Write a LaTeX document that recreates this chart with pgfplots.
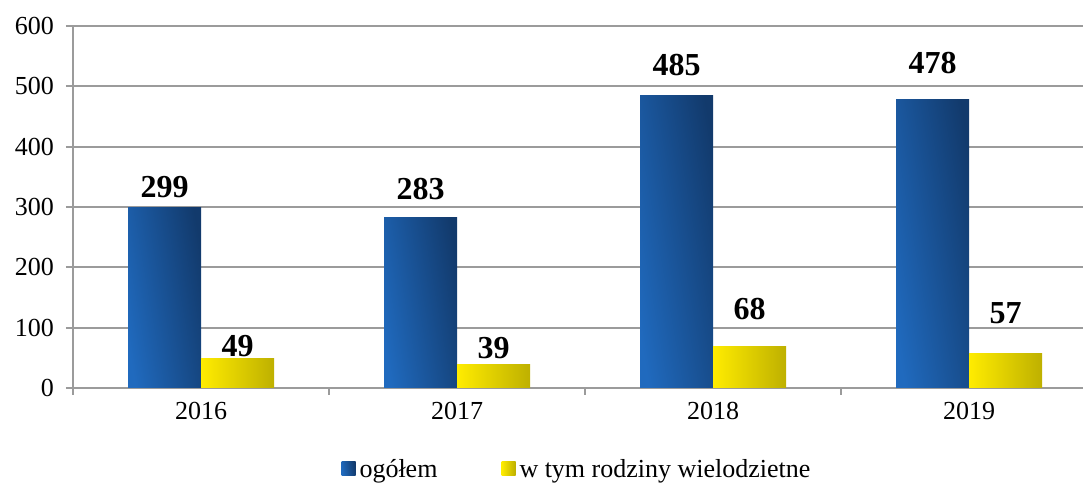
\documentclass[border=0pt]{standalone}
\usepackage{fontspec}
\setmainfont{Liberation Serif}
\usepackage{pgfplots}
\pgfplotsset{compat=1.18}
\definecolor{gridgray}{RGB}{155,155,155}
\definecolor{blueA}{RGB}{32,106,190}
\definecolor{blueB}{RGB}{18,58,108}
\definecolor{yelA}{RGB}{255,236,0}
\definecolor{yelB}{RGB}{190,176,0}
\pgfplotsset{
  bluebar/.style={draw=none, left color=blueA, right color=blueB, shading angle=100, bar shift=-18.25pt},
  yelbar/.style={draw=none, left color=yelA, right color=yelB, bar shift=18.25pt},
}
\begin{document}
\begin{tikzpicture}
\begin{axis}[
  at={(0,0)}, anchor=south west,
  scale only axis, width=505pt, height=181pt,
  xmin=-0.5, xmax=3.445, ymin=0, ymax=600,
  enlargelimits=false,
  ybar=0pt, bar width=36.5pt,
  axis lines*=left,
  axis line style={draw=gridgray, line width=0.9pt, -},
  ymajorgrids, grid style={gridgray, line width=0.9pt},
  tick align=outside, major tick length=3.5pt,
  tick style={gridgray, line width=0.9pt},
  xtick={-0.5,0.5,1.5,2.5}, xticklabels={},
  extra x ticks={0,1,2,3},
  extra x tick labels={2016,2017,2018,2019},
  extra x tick style={major tick length=0pt, grid=none, xticklabel style={yshift=-3.5pt}},
  ytick={0,100,...,600},
  yticklabel style={xshift=-2.5pt},
  tick label style={font=\fontsize{13}{15}\selectfont, text=black},
  /pgf/number format/assume math mode=true,
  nodes near coords,
  visualization depends on={\thisrow{s} \as \myshift},
  every node near coord/.append style={font=\bfseries\fontsize{16}{18}\selectfont, text=black, yshift=\myshift pt},
  legend columns=2,
  legend style={at={(0.5,0)}, anchor=center, yshift=-41pt, xshift=0pt, draw=none,
    font=\fontsize{13}{15}\selectfont,
    /tikz/every even column/.append style={column sep=30pt}},
  legend image code/.code={\path[#1, draw=none] (-3pt,-3pt) rectangle (4pt,4pt);},
]
% ogółem
\addplot[bluebar] table[x=x, y=y] {
x y s
0 299 1.5
};
\addlegendentry{ogółem}
\addplot[yelbar] table[x=x, y=y] {
x y s
0 49 -2.75
};
\addlegendentry{w tym rodziny wielodzietne}
\addplot[bluebar, forget plot] table[x=x, y=y] {
x y s
1 283 5
};
\addplot[bluebar, forget plot] table[x=x, y=y] {
x y s
2 485 6
};
\addplot[bluebar, forget plot] table[x=x, y=y] {
x y s
3 478 9.5
};
\addplot[yelbar, forget plot] table[x=x, y=y] {
x y s
1 39 -0.75
};
\addplot[yelbar, forget plot] table[x=x, y=y] {
x y s
2 68 10
};
\addplot[yelbar, forget plot] table[x=x, y=y] {
x y s
3 57 11.5
};
\end{axis}
\pgfresetboundingbox
\useasboundingbox (-36.5pt,-48.5pt) rectangle (505pt,194pt);
\end{tikzpicture}
\end{document}
